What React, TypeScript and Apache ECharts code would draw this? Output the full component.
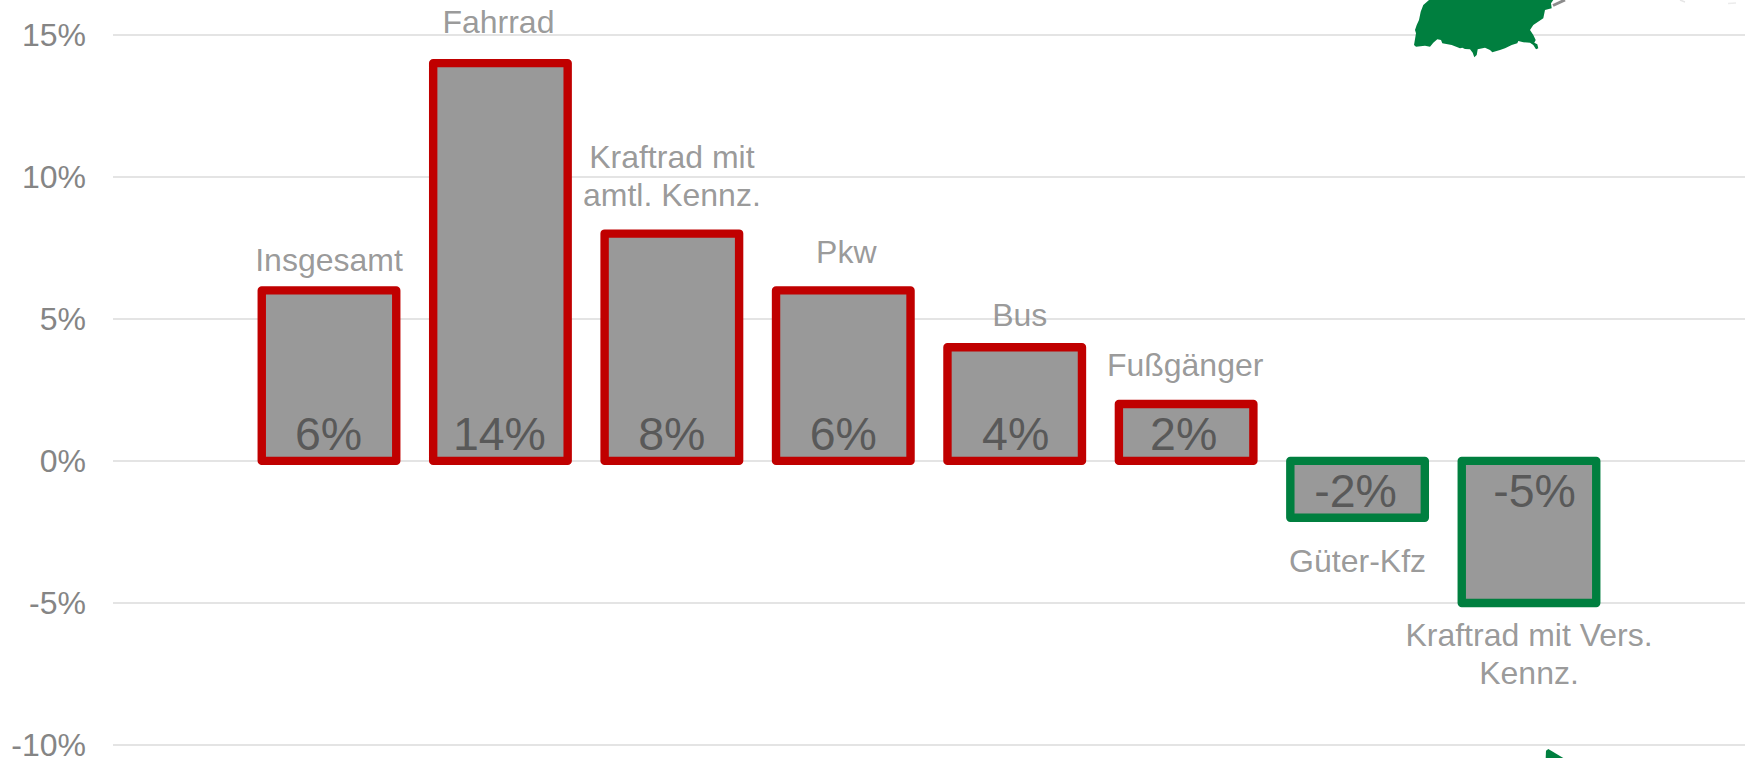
import React, { useEffect, useRef } from "react";
import * as echarts from "echarts";

const categories = ["Insgesamt", "Fahrrad", "Kraftrad mit\namtl. Kennz.", "Pkw", "Bus", "Fußgänger", "Güter-Kfz", "Kraftrad mit Vers.\nKennz."];
const values = [6, 14, 8, 6, 4, 2, -2, -5];
const valueLabels = ["6%", "14%", "8%", "6%", "4%", "2%", "-2%", "-5%"];
const yTicks = { min: -10, max: 15, interval: 5 };

// layout tweaks for the hand-placed labels of the original, in px
const nameGaps = [11, 22, 20, 19, 13, 20, 24, 13];
const nameDx = [0, -2, 0, 3, 5, -1, 0, 0];
const valueDx = [-0.5, -1, 0, 0, 1, -2.5, -2, 5.5];

const FONT = '"Liberation Sans", Arial, sans-serif';
const RED = "#C00000";
const GREEN = "#007F3F";
const BAR_W = 134.5;

const mapPts = [[1429, 0], [1423.3, 5], [1420.7, 11.7], [1419, 20], [1416.7, 25], [1415, 30], [1416, 33.3], [1414, 45], [1416, 46.7], [1425, 45.7], [1430, 46.7], [1433.3, 42.7], [1437.3, 39.3], [1441, 40], [1442.3, 43.3], [1451.7, 45], [1460, 48.3], [1462.3, 47.7], [1465, 49], [1470, 49.3], [1472.7, 52.7], [1474.3, 57.3], [1476.7, 55], [1477.7, 49.3], [1485, 47.7], [1490, 50], [1492.3, 52.3], [1500, 50], [1505, 48.3], [1511.7, 45], [1517.3, 43.3], [1518.3, 41], [1523.3, 42.3], [1530, 42.7], [1533.3, 45], [1536, 49.3], [1538.3, 48.3], [1537.3, 44.3], [1534.3, 42.7], [1535.7, 40], [1533.3, 35], [1530, 30], [1533.3, 25], [1543.3, 18.3], [1545, 10], [1551.7, 8.3], [1551, 3.3], [1553.3, 0]];
const triPts = [[1545.7, 758], [1546, 750.7], [1548.3, 749], [1563.3, 758]];

export default function App() {
  const ref = useRef<HTMLDivElement>(null);
  useEffect(() => {
    const chart = echarts.init(ref.current!, undefined, { renderer: "svg" });
    chart.setOption({
      animation: false,
      backgroundColor: "#ffffff",
      grid: { left: 113, right: 3, top: 34.7, bottom: 13, outerBoundsMode: "none" },
      xAxis: { type: "value", min: -1.26, max: 8.26, show: false, splitLine: { show: false } },
      yAxis: {
        type: "value",
        min: yTicks.min,
        max: yTicks.max,
        interval: yTicks.interval,
        axisLine: { show: false },
        axisTick: { show: false },
        splitLine: { show: true, lineStyle: { color: "#E4E4E4", width: 2 } },
        axisLabel: { color: "#858585", fontFamily: FONT, fontSize: 32, lineHeight: 26, margin: 27, formatter: (v: number) => `${v}%` },
      },
      series: [
        {
          type: "custom",
          z: 3,
          clip: false,
          encode: { x: 0, y: 1 },
          data: values.map((v, i) => [i, v]),
          renderItem: (_p: any, api: any) => {
            const i = api.value(0);
            const v = api.value(1);
            const top = api.coord([i, v]);
            const base = api.coord([i, 0]);
            const y = Math.min(top[1], base[1]);
            const h = Math.abs(top[1] - base[1]);
            return {
              type: "group",
              children: [
                {
                  type: "rect",
                  shape: { x: top[0] - BAR_W / 2, y, width: BAR_W, height: h },
                  style: { fill: "#999999", stroke: v >= 0 ? RED : GREEN, lineWidth: 8.4, lineJoin: "round" },
                },
                {
                  type: "text",
                  x: top[0] + valueDx[i],
                  y: base[1] + (v >= 0 ? -27 : 30),
                  style: {
                    text: valueLabels[i],
                    fill: "#595959",
                    font: `46.5px ${FONT}`,
                    align: "center",
                    verticalAlign: "middle",
                  },
                },
              ],
            };
          },
        },
        {
          type: "scatter",
          symbolSize: 0,
          z: 4,
          data: values.map((v, i) => ({
            value: [i, v],
            label: {
              show: true,
              formatter: categories[i],
              position: v >= 0 ? "top" : "bottom",
              distance: nameGaps[i],
              offset: [nameDx[i], 0],
              color: "#808080",
              fontFamily: FONT,
              fontSize: 32,
              lineHeight: 38,
              align: "center",
            },
          })),
        },
      ],
      graphic: [
        { type: "line", z: 9, shape: { x1: 1553, y1: 5.5, x2: 1565, y2: 0 }, style: { stroke: "#8c8c8c", lineWidth: 3 } },
        { type: "polygon", z: 10, shape: { points: mapPts }, style: { fill: GREEN } },
        { type: "polygon", z: 10, shape: { points: triPts }, style: { fill: GREEN } },
        { type: "line", z: 9, shape: { x1: 1680, y1: 0, x2: 1685, y2: 2 }, style: { stroke: "#e6e6e6", lineWidth: 1.5 } },
        { type: "line", z: 9, shape: { x1: 1728, y1: 3.5, x2: 1736, y2: 3 }, style: { stroke: "#ececec", lineWidth: 1.5 } },
      ],
    });
    return () => chart.dispose();
  }, []);
  return <div ref={ref} style={{ position: "absolute", left: 0, top: 0, width: 1748, height: 758 }} />;
}
